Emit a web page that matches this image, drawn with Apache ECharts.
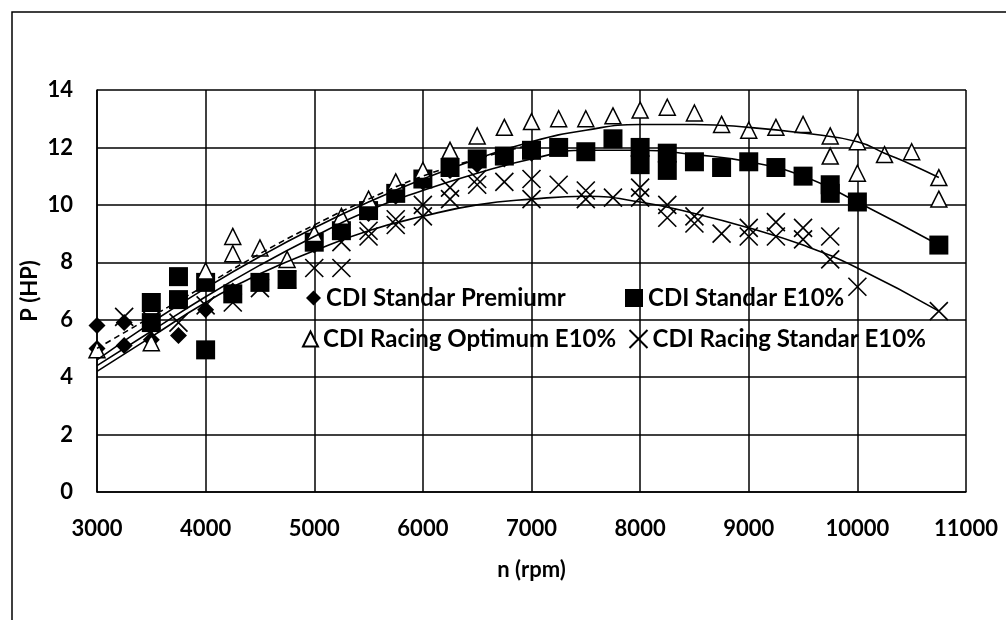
<!DOCTYPE html>
<html>
<head>
<meta charset="utf-8">
<script src="https://cdn.jsdelivr.net/npm/echarts@6/dist/echarts.min.js"></script>
<style>
  html, body { margin: 0; padding: 0; background: #fff; }
  #chart { width: 1006px; height: 620px; }
</style>
</head>
<body>
<div id="chart"></div>
<script>
var premiumRpm = [3000, 3000, 3250, 3250, 3500, 3500, 3750, 4000, 4250, 4500, 4750, 5000, 5250, 5500, 5750, 6000, 6250, 6500, 6750, 7000];
var premiumP   = [5.8, 5.0, 5.9, 5.1, 5.8, 5.3, 5.45, 6.35, 7.0, 7.3, 7.4, 8.6, 9.1, 9.7, 10.3, 10.8, 11.2, 11.4, 11.6, 11.8];

var standarRpm = [3500, 3500, 3750, 3750, 4000, 4000, 4250, 4500, 4750, 5000, 5250, 5500, 5750, 6000, 6250, 6500, 6750, 7000, 7250, 7500, 7750, 8000, 8000, 8250, 8250, 8500, 8750, 9000, 9250, 9500, 9750, 9750, 10000, 10750];
var standarP   = [6.6, 5.9, 7.5, 6.7, 7.3, 4.95, 6.9, 7.3, 7.4, 8.7, 9.1, 9.8, 10.4, 10.9, 11.3, 11.6, 11.7, 11.9, 12.0, 11.85, 12.3, 12.0, 11.4, 11.8, 11.2, 11.5, 11.3, 11.5, 11.3, 11.0, 10.7, 10.4, 10.1, 8.6];

var optimumRpm = [3000, 3500, 4000, 4250, 4250, 4500, 4750, 5000, 5250, 5500, 5750, 6000, 6250, 6500, 6750, 7000, 7250, 7500, 7750, 8000, 8250, 8500, 8750, 9000, 9250, 9500, 9750, 9750, 10000, 10000, 10250, 10500, 10750, 10750];
var optimumP   = [4.95, 5.2, 7.7, 8.9, 8.3, 8.5, 8.1, 9.0, 9.6, 10.2, 10.8, 11.2, 11.9, 12.4, 12.7, 12.9, 13.0, 13.0, 13.1, 13.3, 13.4, 13.2, 12.8, 12.6, 12.7, 12.8, 12.4, 11.7, 12.2, 11.1, 11.75, 11.85, 10.95, 10.2];

var racingRpm = [3250, 3500, 3750, 4000, 4250, 4500, 4750, 5000, 5250, 5250, 5500, 5500, 5750, 5750, 6000, 6000, 6250, 6250, 6500, 6500, 6750, 7000, 7000, 7250, 7500, 7500, 7750, 8000, 8000, 8250, 8250, 8500, 8500, 8750, 9000, 9000, 9250, 9250, 9500, 9500, 9750, 9750, 10000, 10750];
var racingP   = [6.1, 6.0, 5.9, 6.5, 6.6, 7.1, 7.4, 7.8, 7.8, 8.7, 8.9, 9.1, 9.3, 9.5, 9.6, 10.0, 10.2, 10.6, 10.7, 10.9, 10.8, 10.2, 10.9, 10.7, 10.5, 10.2, 10.25, 10.25, 10.6, 10.0, 9.55, 9.35, 9.6, 9.0, 8.9, 9.2, 8.9, 9.4, 8.8, 9.2, 8.9, 8.1, 7.15, 6.3];

// trend lines, read at a few rpm steps
var premiumTrendRpm = [3000, 3500, 4000, 4500, 5000, 5500, 6000, 6500, 7000];
var premiumTrendP   = [5.0, 6.1, 7.2, 8.3, 9.3, 10.2, 11.0, 11.6, 12.1];
var standarTrendRpm = [3000, 3500, 4000, 4500, 5000, 5500, 6000, 6500, 7000, 7500, 8000, 8500, 9000, 9500, 10000, 10750];
var standarTrendP   = [4.4, 5.6, 6.8, 7.9, 8.9, 9.8, 10.5, 11.1, 11.6, 11.9, 11.9, 11.75, 11.5, 11.0, 10.1, 8.6];
var optimumTrendRpm = [3000, 3500, 4000, 4500, 5000, 5500, 6000, 6500, 7000, 7500, 8000, 8500, 9000, 9500, 10000, 10250, 10500, 10750];
var optimumTrendP   = [4.6, 5.9, 7.1, 8.2, 9.2, 10.1, 10.9, 11.6, 12.2, 12.6, 12.8, 12.8, 12.7, 12.5, 12.2, 11.8, 11.4, 10.95];
var racingTrendRpm = [3000, 3500, 4000, 4500, 5000, 5500, 6000, 6500, 7000, 7500, 8000, 8500, 9000, 9500, 10000, 10750];
var racingTrendP   = [4.2, 5.4, 6.6, 7.6, 8.4, 9.1, 9.6, 10.0, 10.2, 10.3, 10.1, 9.7, 9.2, 8.6, 7.8, 6.3];

var xTicks = [3000, 11000, 1000];
var yTicks = [0, 14, 2];

function pairs(xs, ys) {
    var out = [];
    for (var i = 0; i < xs.length; i++) {
        out.push([xs[i], ys[i]]);
    }
    return out;
}

var chartDom = document.getElementById('chart');
var myChart = echarts.init(chartDom);
var option;

var font = 'Lato, "Liberation Sans", sans-serif';
var crossPath = 'path://M0,0L10,10M10,0L0,10';

var legendText = { fontFamily: font, fontWeight: 'bold', fontSize: 24, color: '#000' };
var tickText = { fontFamily: font, fontWeight: 'bold', fontSize: 22, color: '#000' };

function trend(name, xs, ys, dashed) {
    return {
        name: name,
        type: 'line',
        data: pairs(xs, ys),
        smooth: true,
        symbol: 'none',
        silent: true,
        z: 5,
        lineStyle: { color: '#000', width: 1.6, type: dashed ? [6, 4] : 'solid' }
    };
}

option = {
    backgroundColor: '#fff',
    animation: false,
    graphic: [
        {
            type: 'rect',
            shape: { x: 12, y: 12, width: 1100, height: 700 },
            style: { fill: 'none', stroke: '#000', lineWidth: 1.5 }
        }
    ],
    grid: { left: 97, right: 40, top: 90, bottom: 128 },
    legend: [
        { data: ['CDI Standar Premiumr'], left: 301, top: 281, itemWidth: 15, itemHeight: 15, itemGap: 3, textStyle: legendText, selectedMode: false },
        { data: ['CDI Standar E10%'], left: 620, top: 281, itemWidth: 18, itemHeight: 18, itemGap: 3, textStyle: legendText, selectedMode: false },
        { data: ['CDI Racing Optimum E10%'], left: 297, top: 322, itemWidth: 15, itemHeight: 15, itemGap: 3, textStyle: legendText, selectedMode: false },
        { data: ['CDI Racing Standar E10%'], left: 622, top: 322, itemWidth: 18, itemHeight: 18, itemGap: 3, textStyle: legendText, selectedMode: false }
    ],
    xAxis: {
        type: 'value',
        min: xTicks[0],
        max: xTicks[1],
        interval: xTicks[2],
        name: 'n (rpm)',
        nameLocation: 'middle',
        nameGap: 67,
        nameMoveOverlap: false,
        nameTextStyle: tickText,
        axisLine: { show: true, onZero: false, lineStyle: { color: '#000', width: 1.5 } },
        axisTick: { show: false },
        axisLabel: {
            margin: 26,
            fontFamily: font, fontWeight: 'bold', fontSize: 22, color: '#000',
            formatter: function (v) { return String(v); }
        },
        splitLine: { show: true, lineStyle: { color: '#000', width: 1.5 } }
    },
    yAxis: {
        type: 'value',
        min: yTicks[0],
        max: yTicks[1],
        interval: yTicks[2],
        name: 'P (HP)',
        nameLocation: 'middle',
        nameGap: 56,
        nameMoveOverlap: false,
        nameTextStyle: tickText,
        axisLine: { show: true, lineStyle: { color: '#000', width: 1.5 } },
        axisTick: { show: false },
        axisLabel: { margin: 24, fontFamily: font, fontWeight: 'bold', fontSize: 22, color: '#000' },
        splitLine: { show: true, lineStyle: { color: '#000', width: 1.5 } }
    },
    series: [
        {
            name: 'CDI Standar Premiumr',
            type: 'scatter',
            symbol: 'diamond',
            symbolSize: 17,
            data: pairs(premiumRpm, premiumP),
            itemStyle: { color: '#000', opacity: 1 },
            z: 2
        },
        {
            name: 'CDI Standar E10%',
            type: 'scatter',
            symbol: 'rect',
            symbolSize: 19,
            data: pairs(standarRpm, standarP),
            itemStyle: { color: '#000', opacity: 1 },
            z: 3
        },
        {
            name: 'CDI Racing Optimum E10%',
            type: 'scatter',
            symbol: 'triangle',
            symbolSize: 16,
            data: pairs(optimumRpm, optimumP),
            itemStyle: { color: '#fff', borderColor: '#000', borderWidth: 1.5, opacity: 1 },
            z: 4
        },
        {
            name: 'CDI Racing Standar E10%',
            type: 'scatter',
            symbol: crossPath,
            symbolSize: 18,
            data: pairs(racingRpm, racingP),
            itemStyle: { color: 'none', borderColor: '#000', borderWidth: 1.6, opacity: 1 },
            z: 4
        },
        trend('trend premium', premiumTrendRpm, premiumTrendP, true),
        trend('trend standar', standarTrendRpm, standarTrendP, false),
        trend('trend optimum', optimumTrendRpm, optimumTrendP, false),
        trend('trend racing', racingTrendRpm, racingTrendP, false)
    ]
};

option && myChart.setOption(option);
</script>
</body>
</html>
